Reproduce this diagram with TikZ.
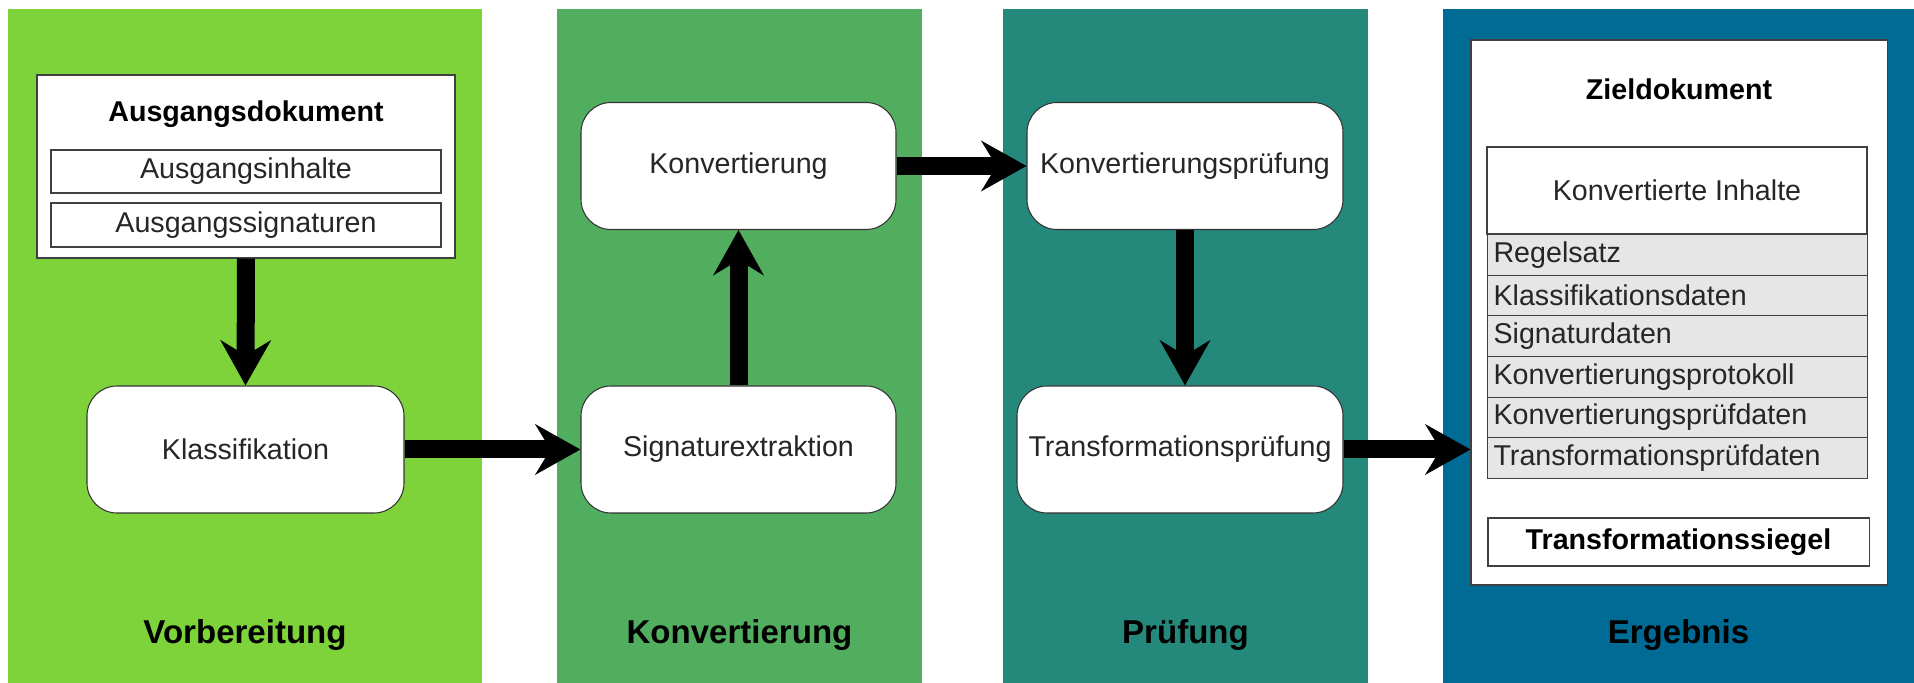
\documentclass[tikz,border=0pt]{standalone}
\usepackage{fontspec}
\setmainfont{Liberation Sans}
\usetikzlibrary{arrows.meta,positioning}

\definecolor{vorbereitung}{HTML}{7ED33A}
\definecolor{konvertierung}{HTML}{52AE5F}
\definecolor{pruefung}{HTML}{24897B}
\definecolor{ergebnis}{HTML}{006B95}
\definecolor{zeilengrau}{HTML}{E6E6E6}

\tikzset{
  schritt/.style={draw=black!80, fill=white, rounded corners=0.6cm, line width=0.6pt,
    minimum height=2.54cm, text=black!85, font=\fontsize{16.3}{19}\selectfont},
  feld/.style={draw=black!75, fill=white, line width=0.6pt, inner sep=0pt,
    text=black!85, font=\fontsize{16.3}{19}\selectfont},
  zeile/.style={feld, fill=zeilengrau, anchor=north west, minimum height=0.813cm,
    text width=7.36cm, inner xsep=0.12cm, align=left},
  titel/.style={text=black, font=\fontsize{16.3}{19}\selectfont\bfseries},
  phasentitel/.style={text=black, font=\fontsize{18.8}{22}\selectfont\bfseries},
  pfeil/.style={line width=0.36cm, -{Stealth[length=0.9cm, width=1cm, inset=0.3cm]}}
}

\begin{document}
\begin{tikzpicture}
    \useasboundingbox (0,0) rectangle (38.28,13.66);

    % Draw the four phase columns
    \fill[vorbereitung] (0.16,0) rectangle (9.64,13.48);
    \fill[konvertierung] (11.14,0) rectangle (18.44,13.48);
    \fill[pruefung] (20.06,0) rectangle (27.36,13.48);
    \fill[ergebnis] (28.86,0) rectangle (38.28,13.48);

    \node[phasentitel] (lblvor) at (4.90,0.96) {Vorbereitung};
    \node[phasentitel] (lblkonv) at (14.79,0.96) {Konvertierung};
    \node[phasentitel] (lblpruef) at (23.71,0.96) {Prüfung};
    \node[phasentitel] (lblerg) at (33.57,0.96) {Ergebnis};

    % Source document
    \node[feld, minimum width=8.36cm, minimum height=3.66cm] (ausgang) at (4.92,10.33) {};
    \node[titel] (ausgangtitel) at (4.92,11.38) {Ausgangsdokument};
    \node[feld, minimum width=7.8cm, minimum height=0.86cm] (inhalte) at (4.92,10.23) {Ausgangsinhalte};
    \node[feld, minimum width=7.8cm, minimum height=0.88cm] (signaturen) at (4.92,9.16) {Ausgangssignaturen};

    % Process steps
    \node[schritt, minimum width=6.34cm] (klass) at (4.91,4.67) {Klassifikation};
    \node[schritt, minimum width=6.30cm] (sigext) at (14.77,4.67) {Signaturextraktion};
    \node[schritt, minimum width=6.30cm] (konv) at (14.77,10.34) {Konvertierung};
    \node[schritt, minimum width=6.32cm] (kpruef) at (23.70,10.34) {Konvertierungsprüfung};
    \node[schritt, minimum width=6.52cm] (tpruef) at (23.60,4.67) {Transformationsprüfung};

    % Target document
    \node[feld, minimum width=8.32cm, minimum height=10.90cm] (ziel) at (33.58,7.41) {};
    \node[titel] (zieltitel) at (33.58,11.88) {Zieldokument};
    \node[feld, minimum width=7.60cm, minimum height=1.74cm] (konvinhalte) at (33.54,9.85) {Konvertierte Inhalte};
    \foreach \eintrag [count=\i] in {Regelsatz, Klassifikationsdaten, Signaturdaten,
        Konvertierungsprotokoll, Konvertierungsprüfdaten, Transformationsprüfdaten}
        \node[zeile] (zeile\i) at (29.74,{8.98-(\i-1)*0.8133}) {\eintrag};
    \node[feld, titel, minimum width=7.62cm, minimum height=0.96cm] (siegel) at (33.57,2.82) {Transformationssiegel};

    % Arrows
    \draw[pfeil] (ausgang.south) -- (klass.north);
    \draw[pfeil] (klass.east) -- (sigext.west);
    \draw[pfeil] (sigext.north) -- (konv.south);
    \draw[pfeil] (konv.east) -- (kpruef.west);
    \draw[pfeil] (kpruef.south) -- (kpruef.south |- tpruef.north);
    \draw[pfeil] (tpruef.east) -- (tpruef.east -| ziel.west);
\end{tikzpicture}
\end{document}
